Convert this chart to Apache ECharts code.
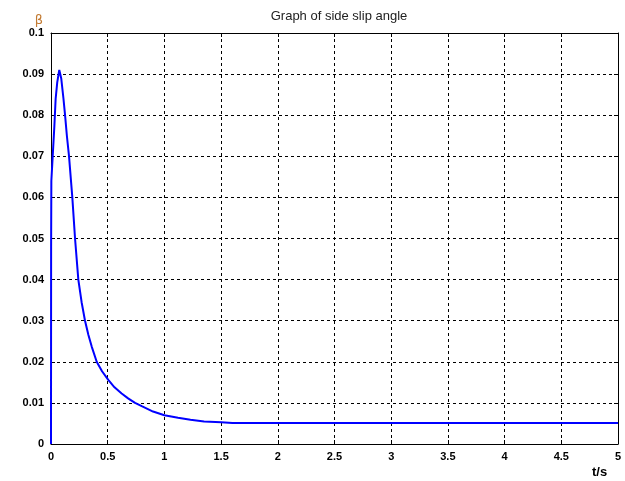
<!DOCTYPE html>
<html>
<head>
<meta charset="utf-8">
<script src="https://cdn.jsdelivr.net/npm/echarts@6/dist/echarts.min.js"></script>
<style>
  html, body { margin: 0; padding: 0; background: #fff; }
  #main { width: 625px; height: 481px; }
</style>
</head>
<body>
<div id="main"></div>
<script>
// time (s) and side slip angle
const timeS = [0, 0.001, 0.003, 0.015, 0.029, 0.041, 0.055, 0.073, 0.09, 0.11, 0.124, 0.14, 0.159,
  0.188, 0.212, 0.241, 0.27, 0.30, 0.33, 0.359, 0.403, 0.45, 0.505, 0.56, 0.623, 0.68, 0.741, 0.8,
  0.9, 1.0, 1.12, 1.23, 1.35, 1.5, 1.6, 2.0, 3.0, 4.0, 5.0];
const beta = [0, 0.048, 0.064, 0.070, 0.077, 0.084, 0.088, 0.091, 0.089, 0.084, 0.080, 0.075, 0.070,
  0.060, 0.050, 0.040, 0.0345, 0.030, 0.0265, 0.0237, 0.020, 0.0177, 0.0156, 0.0138, 0.0123, 0.0111,
  0.0100, 0.0092, 0.0079, 0.0070, 0.0064, 0.0059, 0.0055, 0.0053, 0.0051, 0.0051, 0.0051, 0.0051, 0.0051];
const xTicks = [0, 0.5, 1, 1.5, 2, 2.5, 3, 3.5, 4, 4.5, 5];
const yTicks = [0, 0.01, 0.02, 0.03, 0.04, 0.05, 0.06, 0.07, 0.08, 0.09, 0.1];

const labelFont = {
  fontFamily: 'Liberation Sans, Arial, sans-serif',
  fontWeight: 'bold',
  fontSize: 11,
  color: '#000'
};
const dash = { color: '#000', type: [3, 3], width: 1 };

const myChart = echarts.init(document.getElementById('main'));

const axisBase = {
  type: 'value',
  axisLine: { show: true, onZero: false, lineStyle: { color: '#000', width: 1 } },
  axisTick: { show: true, inside: true, length: 4, lineStyle: { color: '#000' } }
};

const option = {
  animation: false,
  backgroundColor: '#fff',
  title: {
    text: 'Graph of side slip angle',
    left: 334,
    textAlign: 'center',
    top: 5,
    textStyle: {
      fontFamily: 'Liberation Sans Narrow, Liberation Sans, Arial, sans-serif',
      fontWeight: 'normal',
      fontSize: 13,
      color: '#222'
    }
  },
  grid: { left: 51, right: 7, top: 33, bottom: 37 },
  xAxis: [
    Object.assign({}, axisBase, {
      position: 'bottom',
      min: xTicks[0], max: xTicks[xTicks.length - 1], interval: 0.5,
      axisLabel: Object.assign({ margin: 7 }, labelFont),
      splitLine: { show: true, lineStyle: dash }
    }),
    Object.assign({}, axisBase, {
      position: 'top',
      min: xTicks[0], max: xTicks[xTicks.length - 1], interval: 0.5,
      axisLabel: { show: false },
      splitLine: { show: false }
    })
  ],
  yAxis: [
    Object.assign({}, axisBase, {
      position: 'left',
      min: yTicks[0], max: yTicks[yTicks.length - 1], interval: 0.01,
      axisLabel: Object.assign({ margin: 7, formatter: v => String(+v.toFixed(2)) }, labelFont),
      splitLine: { show: true, lineStyle: dash },
      name: 'β',
      nameLocation: 'end',
      nameGap: 6,
      nameTextStyle: {
        fontFamily: 'DejaVu Sans, sans-serif',
        fontSize: 13,
        color: '#c27a32',
        align: 'right',
        padding: [0, 8, 0, 0]
      }
    }),
    Object.assign({}, axisBase, {
      position: 'right',
      min: yTicks[0], max: yTicks[yTicks.length - 1], interval: 0.01,
      axisLabel: { show: false },
      splitLine: { show: false }
    })
  ],
  graphic: [{
    type: 'text',
    left: 592,
    top: 466,
    style: {
      text: 't/s',
      font: 'bold 13px Liberation Sans, Arial, sans-serif',
      fill: '#000'
    }
  }],
  series: [{
    type: 'line',
    data: timeS.map((t, i) => [t, beta[i]]),
    showSymbol: false,
    smooth: false,
    lineStyle: { color: '#0000ff', width: 2 },
    itemStyle: { color: '#0000ff' }
  }]
};

myChart.setOption(option);
</script>
</body>
</html>
